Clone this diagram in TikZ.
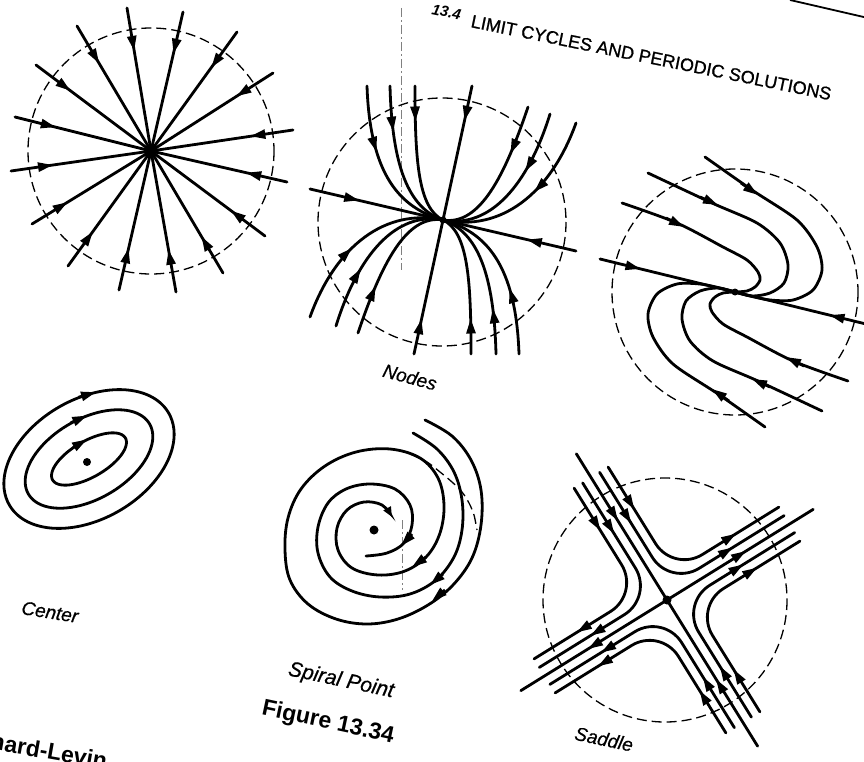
\documentclass[tikz,border=0pt]{standalone}
\usepackage{fontspec}
\setmainfont{Liberation Sans}
\usetikzlibrary{arrows.meta,decorations.markings}

\begin{document}
\begin{tikzpicture}[x=1pt,y=-1pt,
  traj/.style={line width=2.8pt,line cap=round},
  guide/.style={line width=1.3pt,dash pattern=on 10pt off 5pt},
  flowat/.style={postaction={decorate,decoration={markings,
      mark=at position #1 with {\arrow{Triangle[length=15pt,width=9pt]}}}}},
  tipseg/.style={line width=2.8pt,-{Triangle[length=15pt,width=9pt]}},
  lbl/.style={font=\fontsize{19}{19}\selectfont\itshape\addfontfeature{FakeBold=0.6},inner sep=0pt},
  figlbl/.style={font=\fontsize{23}{23}\selectfont\bfseries,inner sep=0pt},
  head/.style={anchor=base west,inner sep=0pt,rotate=-11.5}
]
\useasboundingbox (0,0) rectangle (864,762);
\fill[white] (0,0) rectangle (864,762);
\clip (0,0) rectangle (864,762);

\coordinate (star) at (151,151);
\coordinate (nodc) at (443,220);
\coordinate (impc) at (735,292);
\coordinate (cenc) at (87,462);
\coordinate (spic) at (374,530);
\coordinate (sadc) at (667,600);

\node[head,font=\fontsize{15}{15}\selectfont\bfseries\itshape] (secno) at (431,14) {13.4};
\node[head,font=\fontsize{18}{18}\selectfont\addfontfeature{FakeBold=1}] (runhead) at (470,27) {LIMIT CYCLES AND PERIODIC SOLUTIONS};
\draw[line width=1.8pt] (790,0) -- (868,18);
\draw[black!50,line width=0.6pt,dash pattern=on 9pt off 3pt on 2pt off 3pt] (401,8) -- (401,270);
\draw[black!50,line width=0.6pt,dash pattern=on 9pt off 3pt on 2pt off 3pt] (402,520) -- (402,590);

\draw[guide] (star) circle[radius=123];
\foreach \px/\py in {127/8,183/12,77/26,237/32,36/65,273/73,15/117,293/130,
                     11/171,287/182,32/224,265/236,68/266,223/273,119/290,176/292}
  \draw[traj,flowat=0.3] (\px,\py) -- (star);
\fill (star) circle[radius=6];

\draw[guide] (442,222) circle[radius=124];
\foreach \turn in {0,180}{
  \begin{scope}[rotate around={\turn:(nodc)}]
    \draw[traj,flowat=0.37] (310,189) -- (nodc);
    \draw[traj,flowat=0.26] (472,86) -- (nodc);
    \draw[traj,flowat=0.4] (367,86) .. controls (370,175) and (400,208) .. (nodc);
    \draw[traj,flowat=0.3] (390,86) .. controls (392,165) and (408,208) .. (nodc);
    \draw[traj,flowat=0.25] (415,86) .. controls (415,160) and (418,208) .. (nodc);
    \draw[traj,flowat=0.33] (528,107) .. controls (505,175) and (480,226) .. (nodc);
    \draw[traj,flowat=0.38] (550,114) .. controls (528,185) and (490,229) .. (nodc);
    \draw[traj,flowat=0.45] (576,123) .. controls (550,195) and (500,232) .. (nodc);
  \end{scope}}
\fill (nodc) circle[radius=3.5];
\node[lbl,rotate=-15] (nodeslbl) at (410,377) {Nodes};

\draw[guide] (impc) circle[radius=123];
\foreach \turn in {0,180}{
  \begin{scope}[rotate around={\turn:(impc)}]
    \draw[traj,flowat=0.3] (600,259) -- (impc);
    \draw[traj] plot[smooth] coordinates {(622,203) (677,223) (723,247) (747,260)
      (758,272) (760,280) (755,287) (747,291) (735,292)};
    \draw[traj] plot[smooth] coordinates {(648,173) (712,203) (757,223) (780,243)
      (788,265) (784,283) (770,293) (752,296) (735,292)};
    \draw[traj] plot[smooth] coordinates {(705,157) (752,190) (797,220) (817,247)
      (822,270) (813,290) (793,300) (770,300) (750,296) (735,292)};
    \draw[tipseg] (666,218) -- (684,227);
    \draw[tipseg] (700,197) -- (718,205);
    \draw[tipseg] (741,183) -- (758,195);
  \end{scope}}
\fill (impc) circle[radius=3.5];

\foreach \ra/\rb in {92/60,70/40,42/18}
  \draw[traj] plot[domain=0:360,samples=91,smooth,variable=\t]
    ({89+\ra*cos(\t)*0.866+\rb*sin(\t)*0.5},{459-\ra*cos(\t)*0.5+\rb*sin(\t)*0.866}) -- cycle;
\draw[tipseg] (78.6,397.3) -- (96,392.1);
\draw[tipseg] (70.9,422.7) -- (87.3,415.5);
\draw[tipseg] (73.1,447.5) -- (87,439.4);
\fill (cenc) circle[radius=4];
\node[lbl,rotate=-9] (centerlbl) at (50,612) {Center};

\draw[traj,-{Triangle[length=10pt,width=8pt]}] plot[smooth,tension=0.6] coordinates {
  (425,420) (452,436) (471,460) (481,490) (481,525) (472,558) (453,585) (428,605)
  (398,619) (367,624) (336,619) (308,604) (290,580) (285,550) (288,518) (301,489)
  (325,466) (356,452) (390,449) (420,458) (438,478) (444,505) (440,533) (427,556)
  (405,571) (378,575) (352,568) (338,550) (337,528) (347,510) (364,502) (382,505) (392,517)};
\draw[traj] plot[smooth,tension=0.6] coordinates {
  (413,433) (437,449) (454,472) (462,500) (462,530) (454,557) (436,580) (410,594)
  (380,597) (352,591) (330,577) (318,553) (318,527) (328,503) (346,489) (370,484)
  (395,489) (410,505) (412,525) (404,543) (387,553) (366,556)};
\draw[tipseg] (445,590) -- (432,601);
\draw[tipseg] (426,557) -- (412,567);
\draw[tipseg] (443,574) -- (430,585);
\draw[tipseg] (412,534) -- (401,546);
\draw[guide] plot[smooth] coordinates {(410,454) (427,462) (440,472) (452,482) (462,492)
  (469,503) (474,515) (477,530)};
\fill (spic) circle[radius=4.5];
\node[lbl,rotate=-12,font=\fontsize{21}{21}\selectfont\itshape\addfontfeature{FakeBold=0.6}] (spirallbl) at (341,681) {Spiral Point};
\node[figlbl,rotate=-12] (figlbl) at (328,723) {Figure 13.34};

\draw[guide] (665,600) circle[radius=122];
\begin{scope}[shift={(sadc)},x={(0.85pt,0.527pt)},y={(-0.527pt,0.85pt)},rounded corners=34pt]
  \foreach \sa/\sb in {1/1,-1/1,-1/-1,1/-1}{
    \draw[traj,flowat=60pt,flowat=193pt] ({10*\sa},{144*\sb}) -- ({10*\sa},{10*\sb}) -- ({144*\sa},{10*\sb});
    \draw[traj,flowat=50pt,flowat=183pt] ({20*\sa},{144*\sb}) -- ({20*\sa},{20*\sb}) -- ({144*\sa},{20*\sb});
  }
  \draw[traj,flowat=79pt] (0,172) -- (0,0);
  \draw[traj,flowat=79pt] (0,-172) -- (0,0);
  \draw[traj,flowat=93pt] (0,0) -- (172,0);
  \draw[traj,flowat=93pt] (0,0) -- (-172,0);
\end{scope}
\fill (sadc) circle[radius=4.5];
\node[lbl,rotate=-12] (saddlelbl) at (604,739) {Saddle};

\node[figlbl,rotate=-10] (footlbl) at (49,751) {nard-Levin};
\end{tikzpicture}
\end{document}
